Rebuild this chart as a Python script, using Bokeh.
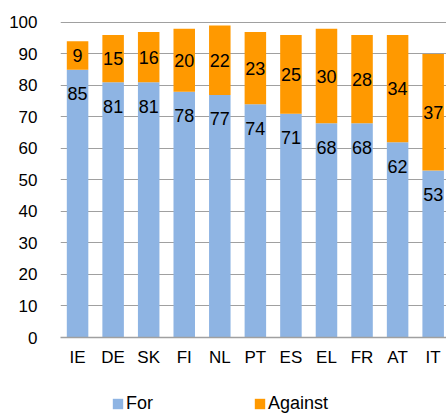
from bokeh.plotting import figure
from bokeh.models import Range1d, FixedTicker, Legend, LegendItem, ColumnDataSource
from bokeh.layouts import column
from bokeh.core.properties import value
from bokeh.embed import file_html
from bokeh.resources import INLINE

countries = ["IE", "DE", "SK", "FI", "NL", "PT", "ES", "EL", "FR", "AT", "IT"]
for_vals = [85, 81, 81, 78, 77, 74, 71, 68, 68, 62, 53]
against_vals = [9, 15, 16, 20, 22, 23, 25, 30, 28, 34, 37]
y_ticks = [0, 10, 20, 30, 40, 50, 60, 70, 80, 90, 100]
series_names = ["For", "Against"]

BLUE = "#8EB4E3"
ORANGE = "#FF9900"
FONT = "Liberation Sans"

idx = list(range(len(countries)))
top = [f + a for f, a in zip(for_vals, against_vals)]
mid_against = [f + a / 2 for f, a in zip(for_vals, against_vals)]
src = ColumnDataSource(dict(
    x=idx, f=for_vals, a=against_vals, top=top, mid=mid_against,
    flab=[str(v) for v in for_vals], alab=[str(v) for v in against_vals],
))

p = figure(width=446, height=385, output_backend="svg", toolbar_location=None,
           x_range=Range1d(-0.48, 10.375), y_range=Range1d(0, 100.3),
           min_border_left=60, min_border_right=0, min_border_top=21,
           min_border_bottom=48)
p.outline_line_color = None
p.background_fill_color = "white"

p.vbar(x="x", width=0.605, bottom=0, top="f", source=src,
       fill_color=BLUE, line_color=None)
p.vbar(x="x", width=0.605, bottom="f", top="top", source=src,
       fill_color=ORANGE, line_color=None)

p.text(x="x", y="f", text="flab", source=src, text_align="center",
       text_baseline="middle", y_offset=24, text_font=value(FONT),
       text_font_size="18px", text_color="#000000")
p.text(x="x", y="mid", text="alab", source=src, text_align="center",
       text_baseline="middle", text_font=value(FONT),
       text_font_size="18px", text_color="#000000")

# grid
p.xgrid.grid_line_color = None
p.ygrid.ticker = FixedTicker(ticks=y_ticks)
p.ygrid.grid_line_color = "#A0A0A0"
p.ygrid.grid_line_width = 1

# y axis
p.yaxis.ticker = FixedTicker(ticks=y_ticks)
p.yaxis.axis_line_color = None
p.yaxis.major_tick_line_color = None
p.yaxis.minor_tick_line_color = None
p.yaxis.major_label_standoff = 17
p.yaxis.major_label_text_font = FONT
p.yaxis.major_label_text_font_size = "17px"
p.yaxis.major_label_text_color = "#000000"

# x axis
p.xaxis.ticker = FixedTicker(ticks=idx)
p.xaxis.major_label_overrides = {i: c for i, c in zip(idx, countries)}
p.xaxis.axis_line_color = "#A0A0A0"
p.xaxis.axis_line_width = 1.5
p.xaxis.major_tick_line_color = None
p.xaxis.minor_tick_line_color = None
p.xaxis.major_tick_out = 0
p.xaxis.major_label_standoff = 10
p.xaxis.major_label_text_font = FONT
p.xaxis.major_label_text_font_size = "17px"
p.xaxis.major_label_text_color = "#000000"

# legend strip below the chart (its bars lie far outside its visible range)
lg = figure(width=446, height=28, output_backend="svg", toolbar_location=None,
            x_axis_location=None, y_axis_location=None,
            x_range=Range1d(1000, 1010), y_range=Range1d(5000, 5010),
            min_border=0, min_border_left=0, min_border_right=0,
            min_border_top=0, min_border_bottom=0)
lg.outline_line_color = None
lg.grid.visible = False
lr_for = lg.vbar(x="x", width=0.605, bottom=0, top="f", source=src,
                 fill_color=BLUE, line_color=None)
lr_ag = lg.vbar(x="x", width=0.605, bottom="f", top="top", source=src,
                fill_color=ORANGE, line_color=None)

legend = Legend(items=[LegendItem(label=series_names[0], renderers=[lr_for]),
                       LegendItem(label=series_names[1], renderers=[lr_ag])],
                orientation="horizontal", location=(51, -1),
                padding=0, margin=0, spacing=100,
                glyph_width=13, glyph_height=13, label_standoff=2,
                label_height=20,
                label_text_font=FONT, label_text_font_size="18px",
                label_text_color="#000000",
                border_line_color=None, background_fill_alpha=0)
lg.add_layout(legend, "center")

open("out.html", "w").write(file_html(column(p, lg, spacing=0), INLINE))
